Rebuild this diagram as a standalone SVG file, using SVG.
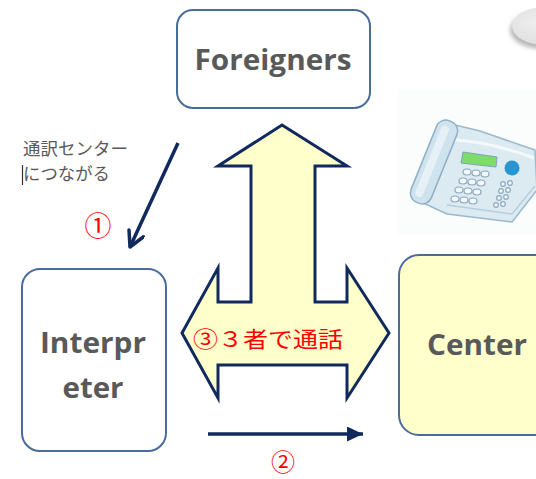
<svg xmlns="http://www.w3.org/2000/svg" width="536" height="479" viewBox="0 0 536 479">
  <style>
    .box { stroke: #4a6c9b; stroke-width: 2; }
    .label { font-family: "Open Sans", "Liberation Sans", sans-serif; font-weight: bold; font-size: 29px; fill: #595959; text-anchor: middle; }
    .jp { font-family: "Noto Sans CJK JP", sans-serif; font-size: 17px; fill: #595959; }
    .num { font-family: "Noto Sans CJK JP", sans-serif; fill: #ff0000; text-anchor: middle; }
    .link { stroke: #102a5e; stroke-width: 3.5; fill: none; }
  </style>
  <defs>
    <marker id="openHead" markerUnits="userSpaceOnUse" markerWidth="22" markerHeight="22" refX="17" refY="9" orient="auto">
      <path d="M2,1 L17,9 L2,17" fill="none" stroke="#102a5e" stroke-width="3.5" stroke-linecap="round" stroke-linejoin="round"/>
    </marker>
    <marker id="solidHead" markerUnits="userSpaceOnUse" markerWidth="18" markerHeight="16" refX="16" refY="7.5" orient="auto">
      <path d="M0,0 L16,7.5 L0,15 z" fill="#102a5e"/>
    </marker>
    <radialGradient id="cloudFill" cx="0.4" cy="0.4" r="0.7">
      <stop offset="0" stop-color="#efefef"/>
      <stop offset="1" stop-color="#dcdcdc"/>
    </radialGradient>
    <filter id="soft" x="-30%" y="-30%" width="160%" height="160%">
      <feGaussianBlur stdDeviation="2"/>
    </filter>
  </defs>

  <rect width="536" height="479" fill="#ffffff"/>

  <!-- speech bubble corner, top right -->
  <g id="bubble">
    <ellipse cx="543" cy="30" rx="33" ry="19" fill="#b8b8b8" filter="url(#soft)"/>
    <ellipse cx="545" cy="26" rx="33" ry="19" fill="url(#cloudFill)"/>
  </g>

  <!-- telephone clip art -->
  <g id="phone">
    <rect x="398" y="90" width="138" height="145" fill="#fbfcfc"/>
    <path d="M447,123 L480,131 L535,150 L537,190 L512,222 L447,214 L419,201 Z" fill="#dceaf2" stroke="#9bb9cc" stroke-width="1.5" stroke-linejoin="round"/>
    <path d="M455,140 Q490,142 534,158" fill="none" stroke="#f4f9fc" stroke-width="3"/>
    <path d="M447,205 L512,214 L535,186" fill="none" stroke="#b5cfdd" stroke-width="1.5"/>
    <g transform="rotate(22 434 162)">
      <rect x="423" y="118" width="22" height="88" rx="10" fill="#cfe3ef" stroke="#8fb0c6" stroke-width="1.5"/>
      <rect x="428" y="124" width="8" height="76" rx="4" fill="#e6f1f7"/>
    </g>
    <path d="M463,152 L497,157 L496,167 L461,163 Z" fill="#7ddc6a" stroke="#7fa3b8" stroke-width="1"/>
    <circle cx="512" cy="168" r="7.5" fill="#2a96cf"/>
    <g fill="#f4f8fb" stroke="#8aa9bd" stroke-width="1.2">
      <ellipse cx="467" cy="172" rx="4" ry="3"/>
      <ellipse cx="476" cy="173" rx="4" ry="3"/>
      <ellipse cx="485" cy="174" rx="4" ry="3"/>
      <ellipse cx="463" cy="181" rx="4" ry="3"/>
      <ellipse cx="472" cy="182" rx="4" ry="3"/>
      <ellipse cx="481" cy="183" rx="4" ry="3"/>
      <ellipse cx="459" cy="190" rx="4" ry="3"/>
      <ellipse cx="468" cy="191" rx="4" ry="3"/>
      <ellipse cx="477" cy="192" rx="4" ry="3"/>
      <ellipse cx="455" cy="199" rx="4" ry="3"/>
      <ellipse cx="464" cy="200" rx="4" ry="3"/>
      <ellipse cx="473" cy="201" rx="4" ry="3"/>
      <circle cx="503" cy="184" r="2.3"/>
      <circle cx="510" cy="183" r="2.3"/>
      <circle cx="501" cy="191" r="2.3"/>
      <circle cx="508" cy="190" r="2.3"/>
      <circle cx="499" cy="198" r="2.3"/>
      <circle cx="506" cy="197" r="2.3"/>
      <circle cx="496" cy="205" r="2.3"/>
      <circle cx="503" cy="204" r="2.3"/>
    </g>
  </g>

  <!-- nodes -->
  <g id="foreigners">
    <rect class="box" x="177" y="10" width="193" height="98" rx="16" fill="#ffffff"/>
    <text class="label" x="273" y="70" textLength="157" lengthAdjust="spacingAndGlyphs">Foreigners</text>
  </g>

  <g id="interpreter">
    <rect class="box" x="22" y="269" width="144" height="182" rx="18" fill="#ffffff"/>
    <text class="label" x="93" y="353" textLength="106" lengthAdjust="spacingAndGlyphs">Interpr</text>
    <text class="label" x="93" y="398" textLength="61" lengthAdjust="spacingAndGlyphs">eter</text>
  </g>

  <g id="center">
    <rect class="box" x="399" y="255" width="160" height="180" rx="20" fill="#ffffcc"/>
    <text class="label" x="477" y="355" textLength="100" lengthAdjust="spacingAndGlyphs">Center</text>
  </g>

  <!-- three-way call arrow -->
  <g id="conference">
    <polygon points="282,125 347,166 315,166 315,302 347,302 347,268 389,333 347,398 347,365 218,365 218,398 182,333 218,268 218,302 251,302 251,166 218,166" fill="#ffffcc" stroke="#102a5e" stroke-width="3" stroke-linejoin="miter"/>
    <text class="num" x="268" y="347" font-size="22" textLength="150" lengthAdjust="spacingAndGlyphs">③３者で通話</text>
  </g>

  <!-- connectors -->
  <g id="connectors">
    <line class="link" x1="178" y1="143" x2="130" y2="247" marker-end="url(#openHead)"/>
    <line class="link" x1="208" y1="434" x2="363" y2="434" marker-end="url(#solidHead)"/>
  </g>

  <!-- annotations -->
  <g id="notes">
    <text class="jp" x="23" y="155" textLength="105" lengthAdjust="spacingAndGlyphs">通訳センター</text>
    <text class="jp" x="23" y="180" textLength="87" lengthAdjust="spacingAndGlyphs">につながる</text>
    <line x1="22.5" y1="165" x2="22.5" y2="185" stroke="#333333" stroke-width="1.2"/>
    <text class="num" x="98" y="236" font-size="27">①</text>
    <text class="num" x="283" y="471" font-size="24">②</text>
  </g>
</svg>
